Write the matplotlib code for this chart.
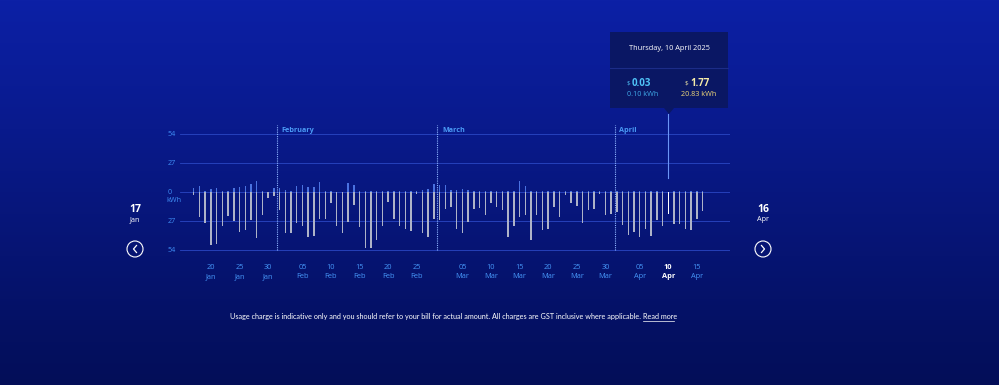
import numpy as np
import pandas as pd
import matplotlib
matplotlib.use("Agg")
import matplotlib.pyplot as plt
import matplotlib.dates as mdates
from matplotlib.patches import Rectangle, Circle, Polygon

plt.rcParams['font.family'] = ['Open Sans', 'DejaVu Sans']

# daily usage, 17 Jan 2025 - 16 Apr 2025
dates = pd.date_range("2025-01-17", "2025-04-16", freq="D")

# grid consumption (kWh), drawn downwards
consumed = [
    3, 23, 29, 49, 48, 32, 22, 27, 37, 35, 26, 43, 21, 6, 4,
    17, 38, 38, 29, 32, 42, 41, 25, 25, 10, 32, 38, 28, 12, 33, 52, 52, 45, 32, 9,
    25, 32, 34, 36, 2, 38, 42, 25,
    26, 16, 14, 34, 38, 28, 16, 15, 21, 10, 13.5, 17, 42, 32, 23, 21, 45, 21, 35, 34,
    14, 23, 3, 10, 13, 29, 17, 16, 2, 21, 20,
    19, 31, 40, 37, 42, 34, 41, 26, 32, 20.83, 30, 30, 34, 35, 25.5, 18,
]
# feed-in / export (kWh), drawn upwards
exported = [
    3.4, 5.5, 1, 3, 4, 1, 0.5, 3.4, 4.7, 5.6, 7.8, 10, 0.5, 0.3, 4,
    3.4, 2, 0.5, 6, 6.5, 5, 4.3, 9, 1, 1, 0.3, 0.3, 8, 7, 1, 1,
    0.5, 0.5, 0.5, 0.5, 0.5, 0.5, 0.5, 1, 1, 2, 2.5, 7.5,
    7, 6.5, 1.5, 2, 2.5, 2, 1, 1, 1, 1, 1, 1, 1, 1, 10, 6,
    1, 1, 1, 1, 1, 1, 1, 1, 1, 1, 1, 1, 1, 1, 1,
    0.5, 0.5, 0.5, 0.5, 0.5, 0.5, 0.5, 0.5, 0.5, 0.10, 0.5, 0.5, 0.5, 0.5, 0.5, 0.5,
]

tick_dates = pd.to_datetime([
    "2025-01-20", "2025-01-25", "2025-01-30",
    "2025-02-05", "2025-02-10", "2025-02-15", "2025-02-20", "2025-02-25",
    "2025-03-05", "2025-03-10", "2025-03-15", "2025-03-20", "2025-03-25", "2025-03-30",
    "2025-04-05", "2025-04-10", "2025-04-15",
])
month_starts = pd.to_datetime(["2025-02-01", "2025-03-01", "2025-04-01"])
month_names = ["February", "March", "April"]
y_ticks = [54, 27, 0, -27, -54]
y_labels = ["54", "27", "0", "27", "54"]
selected = pd.Timestamp("2025-04-10")

W, H = 999, 385
fig = plt.figure(figsize=(W / 100, H / 100), dpi=100)

# background gradient
bg = fig.add_axes([0, 0, 1, 1], zorder=0)
top = np.array([12, 32, 166]) / 255
bot = np.array([3, 14, 88]) / 255
t = np.linspace(0, 1, 256)[:, None]
grad = top + (bot - top) * t
bg.imshow(grad[:, None, :].repeat(2, axis=1), aspect="auto", extent=[0, 1, 0, 1])
bg.set_axis_off()

# main chart
ax = fig.add_axes([180 / W, 1 - 258 / H, 550 / W, 140 / H], zorder=1)
ax.patch.set_alpha(0)
d0 = dates[0]
ax.set_xlim(d0 - pd.Timedelta(days=2.41), d0 + pd.Timedelta(days=93.8))
ax.set_ylim(-61.4, 68.9)

for y in y_ticks:
    ax.axhline(y, color="#2a47c4", lw=0.6, zorder=0)

neg_colors = ["white" if d == selected else "#aeb3c8" for d in dates]
ax.bar(dates, [-v for v in consumed], width=0.25, color=neg_colors, lw=0, zorder=2)
ax.bar(dates, exported, width=0.25, color="#4a72e0", lw=0, zorder=2)

for d, name in zip(month_starts, month_names):
    x = d - pd.Timedelta(days=0.4)
    ax.plot([x, x], [-54, 62.5], color="#8fb4ff", lw=0.8, ls=(0, (1, 1)), zorder=1, clip_on=False)
    ax.text(x + pd.Timedelta(days=0.8), 57, name, color="#4a9af5", fontsize=5.2,
            fontweight="bold", va="center", ha="left")

# hover line
ax.plot([selected, selected], [13, 72.5], color="#6b95f5", lw=0.8, clip_on=False, zorder=3)

ax.set_xticks(tick_dates)
ax.xaxis.set_major_formatter(mdates.DateFormatter("%d\n%b"))
ax.tick_params(axis="x", length=0, pad=4, labelsize=5.3, labelcolor="#4696f8")
for lbl in ax.get_xticklabels():
    lbl.set_linespacing(1.5)
fig.canvas.draw()
for d, lbl in zip(tick_dates, ax.get_xticklabels()):
    if d == selected:
        lbl.set_color("white")
        lbl.set_fontweight("bold")
ax.set_yticks([])
ytr = ax.get_yaxis_transform()
for y, lab in zip(y_ticks, y_labels):
    ax.text(-0.022, y, lab, transform=ytr, color="#3f8ef5", fontsize=5.2, ha="left", va="center")
ax.text(-0.024, -8, "kWh", transform=ytr, color="#3f8ef5", fontsize=5.2, ha="left", va="center")
for s in ax.spines.values():
    s.set_visible(False)

# overlay in pixel coordinates
ov = fig.add_axes([0, 0, 1, 1], zorder=3)
ov.set_xlim(0, W)
ov.set_ylim(H, 0)
ov.set_axis_off()
ov.patch.set_alpha(0)

# tooltip
ov.add_patch(Rectangle((610, 32), 118, 76, facecolor="#0a1764", edgecolor="none"))
ov.add_patch(Polygon([[664, 108], [674, 108], [669, 114]], closed=True,
                     facecolor="#0a1764", edgecolor="none"))
ov.plot([610, 728], [68, 68], color="#1c2c88", lw=0.8)
ov.text(669, 49, "Thursday, 10 April 2025", color="white", fontsize=5.3, ha="center", va="center")
ov.text(630, 83, "$", color="#4fc3f7", fontsize=4.5, ha="right", va="center")
ov.text(632, 83, "0.03", color="#4fc3f7", fontsize=7, fontweight="bold", ha="left", va="center")
ov.text(643, 94.5, "0.10 kWh", color="#3fa9e8", fontsize=5.2, ha="center", va="center")
ov.text(688, 83, "$", color="#f5eba8", fontsize=4.5, ha="right", va="center")
ov.text(690, 83, "1.77", color="#f5eba8", fontsize=7, fontweight="bold", ha="left", va="center")
ov.text(699, 94.5, "20.83 kWh", color="#f0d878", fontsize=5.2, ha="center", va="center")

# range labels and navigation
for x, day, mon, chev in [(135, "17", "Jan", -1), (763, "16", "Apr", 1)]:
    ov.text(x, 209, day, color="white", fontsize=7.5, fontweight="bold", ha="center", va="center")
    ov.text(x, 219.5, mon, color="white", fontsize=5.2, ha="center", va="center")
    ov.add_patch(Circle((x, 249), 8, facecolor="none", edgecolor="white", lw=0.8))
    ov.plot([x - 1.5 * chev, x + 1.5 * chev, x - 1.5 * chev], [245.5, 249, 252.5],
            color="white", lw=0.9)

# footer
ov.text(641, 316.5, "Usage charge is indicative only and you should refer to your bill for actual amount. "
        "All charges are GST inclusive where applicable.", color="white", fontsize=5.25,
        family=["Lato", "DejaVu Sans"], ha="right", va="center")
ov.text(643, 316.5, "Read more", color="white", fontsize=5.25, family=["Lato", "DejaVu Sans"],
        ha="left", va="center")
ov.plot([643, 674], [320.5, 320.5], color="white", lw=0.5)

fig.savefig("out.png", dpi=100)
